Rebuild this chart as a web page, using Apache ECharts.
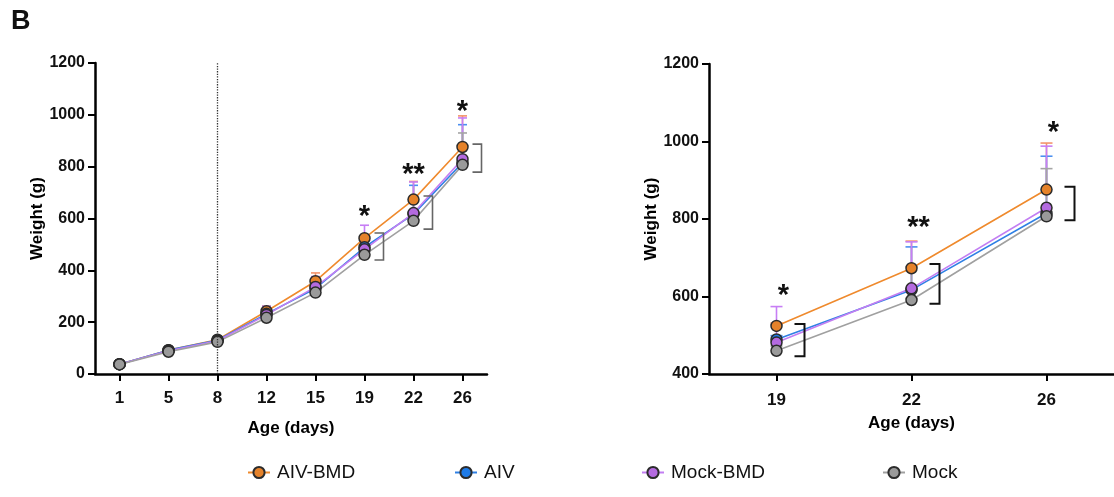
<!DOCTYPE html>
<html>
<head>
<meta charset="utf-8">
<script src="https://cdn.jsdelivr.net/npm/echarts@6/dist/echarts.min.js"></script>
<style>
html,body{margin:0;padding:0;background:#fff;}
#chart{width:1114px;height:497px;}
</style>
</head>
<body>
<div id="chart"></div>
<script>
// ---------- data ----------
const days = ['1','5','8','12','15','19','22','26'];
const zoomDays = ['19','22','26'];
const yTicksLeft = [0, 200, 400, 600, 800, 1000, 1200];
const yTicksRight = [400, 600, 800, 1000, 1200];

const seriesNames = ['AIV-BMD','AIV','Mock-BMD','Mock'];
// mean weights (g)
const aivBmd  = [38, 92, 132, 242, 358, 524, 673, 876];
const aiv     = [38, 92, 130, 232, 330, 489, 617, 815];
const mockBmd = [38, 90, 128, 228, 336, 481, 621, 829];
const mock    = [37, 86, 124, 217, 314, 460, 591, 807];
// upper error (SD)
const aivBmdErr  = [3, 6, 8, 20, 32, 8, 70, 120];
const aivErr     = [3, 6, 8, 28, 25, 10, 111, 147];
const mockBmdErr = [3, 6, 8, 33, 40, 93, 120, 159];
const mockErr    = [3, 6, 8, 20, 25, 12, 85, 123];

// significance annotations
const sigDays = ['19','22','26'];
const sigLabels = ['*','**','*'];
const sigYLeft  = [637, 799, 1042];
const sigYRight = [622, 797, 1042];
const bracketTopLeft = [544, 687, 887];
const bracketBotLeft = [440, 559, 779];
const bracketTopRight = [529, 684, 883];
const bracketBotRight = [446, 581, 797];

// ---------- styles ----------
const FONT = 'Liberation Sans, Arial, Helvetica, sans-serif';
const lineColors   = ['#ef8a2d', '#2f80e4', '#c27ef2', '#a0a0a0'];
const markerColors = ['#e5822a', '#1e7be8', '#b46ae0', '#9a9a9a'];
const errColors    = ['#f3946c', '#4b8ff0', '#c77ef5', '#a5a5a5'];
const means = [aivBmd, aiv, mockBmd, mock];
const errs  = [aivBmdErr, aivErr, mockBmdErr, mockErr];

function lineSeries(i, axisIdx, offset) {
  return {
    name: seriesNames[i],
    type: 'line',
    xAxisIndex: axisIdx, yAxisIndex: axisIdx,
    data: means[i].slice(offset),
    color: markerColors[i],
    symbol: 'circle', symbolSize: 11,
    lineStyle: { color: lineColors[i], width: 1.6 },
    itemStyle: { color: markerColors[i], borderColor: '#2b2b2b', borderWidth: 1.5 },
    emphasis: { disabled: true },
    z: 3,
    animation: false
  };
}

function errSeries(i, axisIdx, offset, capHalf) {
  const d = means[i].slice(offset).map((m, k) => [k, m, errs[i][k + offset]]);
  return {
    type: 'custom',
    xAxisIndex: axisIdx, yAxisIndex: axisIdx,
    data: d,
    z: 2,
    silent: true,
    animation: false,
    renderItem: function (params, api) {
      const x = api.value(0);
      const m = api.value(1), e = api.value(2);
      const p0 = api.coord([x, m]);
      const p1 = api.coord([x, m + e]);
      const st = { stroke: errColors[i], lineWidth: 1.6 };
      return {
        type: 'group',
        children: [
          { type: 'line', shape: { x1: p0[0], y1: p0[1], x2: p1[0], y2: p1[1] }, style: st },
          { type: 'line', shape: { x1: p1[0] - capHalf, y1: p1[1], x2: p1[0] + capHalf, y2: p1[1] }, style: st }
        ]
      };
    }
  };
}

function bracketSeries(axisIdx, cats, tops, bots, dx1, dx2, color, w) {
  return {
    type: 'custom',
    xAxisIndex: axisIdx, yAxisIndex: axisIdx,
    data: cats.map((c, k) => [c, tops[k], bots[k]]),
    z: 4, silent: true, animation: false,
    renderItem: function (params, api) {
      const pt = api.coord([api.value(0), api.value(1)]);
      const pb = api.coord([api.value(0), api.value(2)]);
      const x1 = pt[0] + dx1, x2 = pt[0] + dx2;
      return {
        type: 'polyline',
        shape: { points: [[x1, pt[1]], [x2, pt[1]], [x2, pb[1]], [x1, pb[1]]] },
        style: { stroke: color, lineWidth: w, fill: null }
      };
    }
  };
}

function starSeries(axisIdx, cats, ys, dx) {
  return {
    type: 'custom',
    xAxisIndex: axisIdx, yAxisIndex: axisIdx,
    data: cats.map((c, k) => [c, ys[k], k]),
    z: 5, silent: true, animation: false,
    renderItem: function (params, api) {
      const p = api.coord([api.value(0), api.value(1)]);
      return {
        type: 'text',
        x: p[0] + dx, y: p[1] + 8,
        style: {
          text: sigLabels[api.value(2)],
          font: 'bold 29px ' + FONT,
          fill: '#111',
          align: 'center', verticalAlign: 'middle'
        }
      };
    }
  };
}

function axisCommon() {
  return {
    axisLine: { show: true, lineStyle: { color: '#000', width: 2.5 } },
    axisTick: { show: true, inside: false, length: 7, lineStyle: { color: '#000', width: 2 } },
    splitLine: { show: false },
    nameTextStyle: { fontFamily: FONT, fontWeight: 'bold', fontSize: 17, color: '#000' }
  };
}

const legends = [
  { name: 'AIV-BMD', left: 242 },
  { name: 'AIV', left: 449 },
  { name: 'Mock-BMD', left: 636 },
  { name: 'Mock', left: 877 }
].map(l => ({
  data: [l.name],
  left: l.left, top: 458,
  itemWidth: 22, itemHeight: 14,
  itemGap: 0,
  textStyle: { fontFamily: FONT, fontSize: 19, color: '#111', padding: [0, 0, 0, 2] },
  selectedMode: false
}));

const series = [];
for (let i = 0; i < 4; i++) series.push(lineSeries(i, 0, 0));
for (let i = 0; i < 4; i++) series.push(lineSeries(i, 1, 5));
for (let i = 0; i < 4; i++) series.push(errSeries(i, 0, 0, 4.5));
for (let i = 0; i < 4; i++) series.push(errSeries(i, 1, 5, 6));
series[0].markLine = {
  silent: true, symbol: 'none', animation: false,
  label: { show: false },
  lineStyle: { type: 'dotted', color: '#333', width: 1.3 },
  data: [{ xAxis: '8' }]
};
series.push(bracketSeries(0, sigDays, bracketTopLeft, bracketBotLeft, 10, 19, '#666', 1.6));
series.push(bracketSeries(1, sigDays, bracketTopRight, bracketBotRight, 18, 28, '#111', 2));
series.push(starSeries(0, sigDays, sigYLeft, 0));
series.push(starSeries(1, sigDays, sigYRight, 7));

const plainNum = v => String(v);

const option = {
  backgroundColor: '#fff',
  animation: false,
  title: {
    text: 'B', left: 6, top: 3,
    textStyle: { fontFamily: FONT, fontWeight: 'bold', fontSize: 27, color: '#111' }
  },
  legend: legends,
  grid: [
    { left: 95, top: 63, width: 392, height: 311 },
    { left: 709, top: 64, width: 405, height: 310 }
  ],
  xAxis: [
    Object.assign(axisCommon(), {
      type: 'category', gridIndex: 0, data: days, boundaryGap: true,
      name: 'Age (days)', nameLocation: 'middle', nameGap: 46,
      axisTick: { show: true, alignWithLabel: true, length: 7, lineStyle: { color: '#000', width: 2 } },
      axisLabel: { fontFamily: FONT, fontWeight: 'bold', fontSize: 17, color: '#111', margin: 16 }
    }),
    Object.assign(axisCommon(), {
      type: 'category', gridIndex: 1, data: zoomDays, boundaryGap: true,
      name: 'Age (days)', nameLocation: 'middle', nameGap: 41,
      axisTick: { show: true, alignWithLabel: true, length: 7, lineStyle: { color: '#000', width: 2 } },
      axisLabel: { fontFamily: FONT, fontWeight: 'bold', fontSize: 17, color: '#111', margin: 18 }
    })
  ],
  yAxis: [
    Object.assign(axisCommon(), {
      type: 'value', gridIndex: 0,
      min: yTicksLeft[0], max: yTicksLeft[yTicksLeft.length - 1], interval: yTicksLeft[1] - yTicksLeft[0],
      name: 'Weight (g)', nameLocation: 'middle', nameGap: 41,
      axisLabel: { fontFamily: FONT, fontWeight: 'bold', fontSize: 16, color: '#111', margin: 10, formatter: plainNum }
    }),
    Object.assign(axisCommon(), {
      type: 'value', gridIndex: 1,
      min: yTicksRight[0], max: yTicksRight[yTicksRight.length - 1], interval: yTicksRight[1] - yTicksRight[0],
      name: 'Weight (g)', nameLocation: 'middle', nameGap: 48,
      axisLabel: { fontFamily: FONT, fontWeight: 'bold', fontSize: 16, color: '#111', margin: 10, formatter: plainNum }
    })
  ],
  series: series
};

const chart = echarts.init(document.getElementById('chart'), null, { renderer: 'canvas' });
chart.setOption(option);
</script>
</body>
</html>
